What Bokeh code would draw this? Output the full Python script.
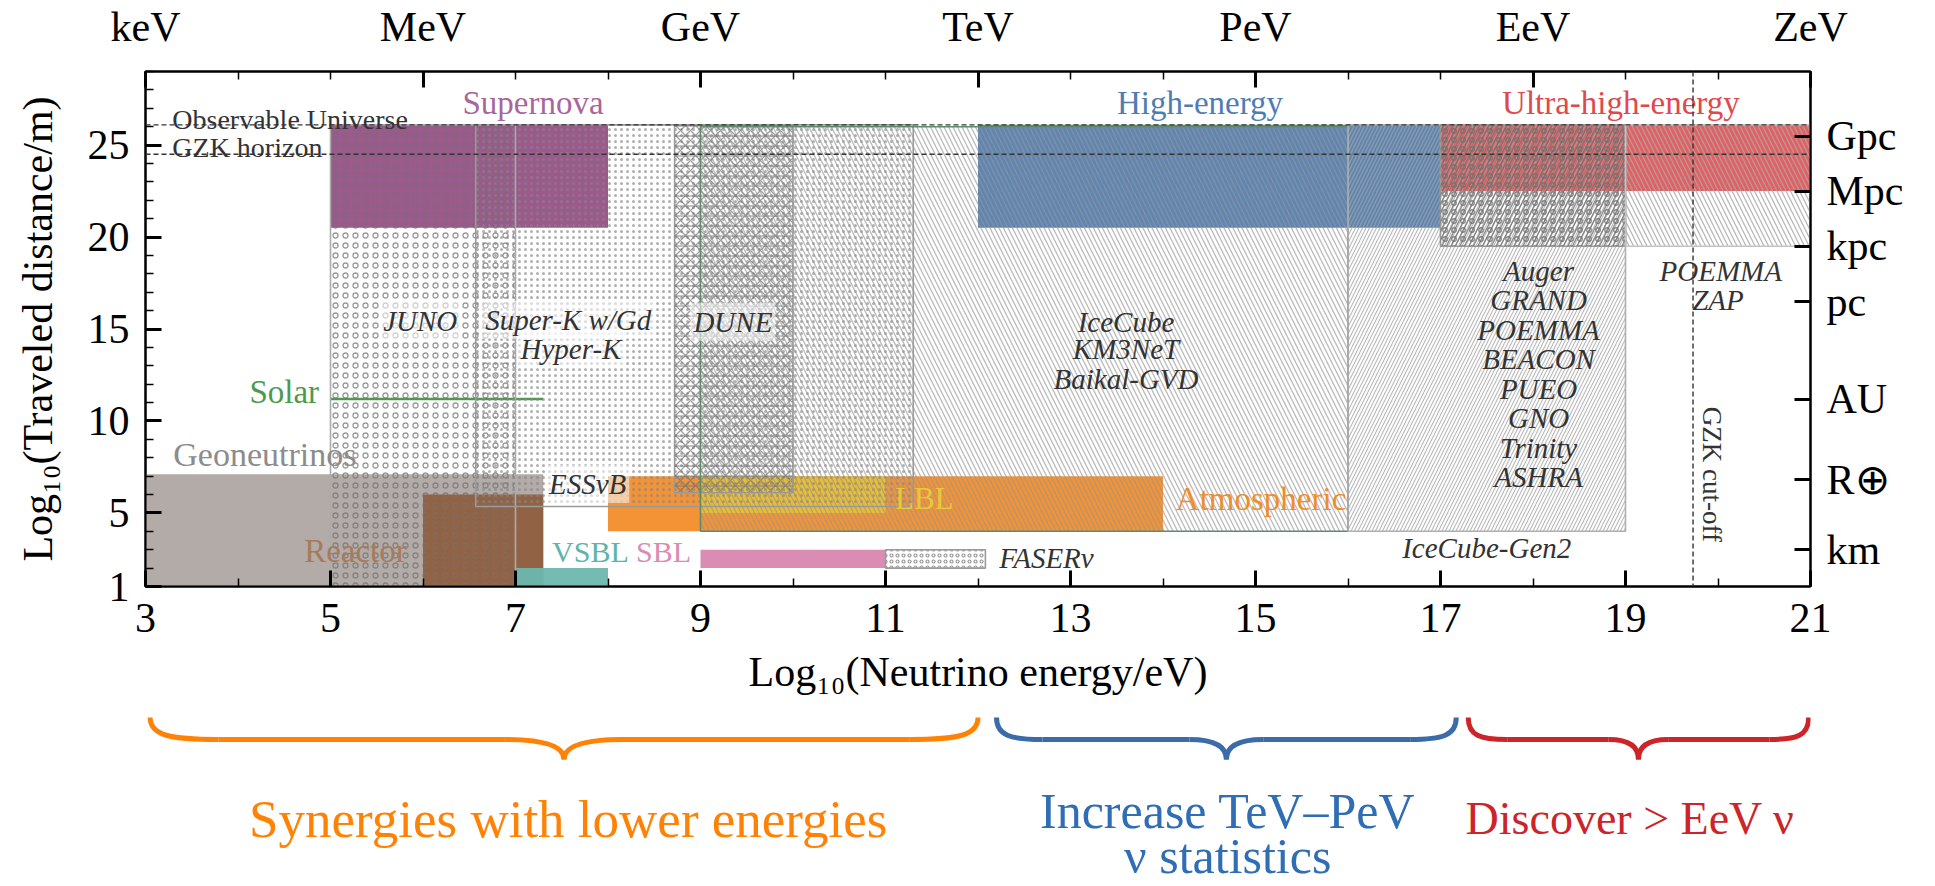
import numpy as np
from bokeh.plotting import figure
from bokeh.models import (Range1d, LinearAxis, FixedTicker, ColumnDataSource,
                          CustomJSTickFormatter, Span, Label)
from bokeh.layouts import column
from bokeh.embed import file_html
from bokeh.resources import INLINE
from bokeh.core.properties import value

FONT = "Liberation Serif"

# ---------------- axes ----------------
energy_ticks = [3, 5, 7, 9, 11, 13, 15, 17, 19, 21]
distance_ticks = [1, 5, 10, 15, 20, 25]
energy_unit_pos = [3, 6, 9, 12, 15, 18, 21]
energy_units = ["keV", "MeV", "GeV", "TeV", "PeV", "EeV", "ZeV"]
distance_unit_pos = [3.0, 6.80, 11.17, 16.49, 19.49, 22.49, 25.49]
distance_units = ["km", "R⊕", "AU", "pc", "kpc", "Mpc", "Gpc"]

# ---------------- horizons ----------------
observable_universe = 26.1
gzk_horizon = 24.5
gzk_cutoff = 19.73

# ---------------- neutrino sources (filled boxes), log10(E/eV) x log10(L/m) ----------------
source_names = ["Geoneutrinos", "Reactor", "VSBL", "SBL", "Atmospheric", "LBL",
                "Supernova", "High-energy", "Ultra-high-energy"]
source_e_lo = [3.0, 6.0, 7.0, 9.0, 8.0, 9.0, 5.0, 12.0, 17.0]
source_e_hi = [7.3, 7.3, 8.0, 11.0, 14.0, 11.0, 8.0, 17.0, 21.0]
source_d_lo = [1.0, 1.0, 1.0, 2.0, 4.0, 5.0, 20.5, 20.5, 22.5]
source_d_hi = [7.1, 6.0, 2.0, 3.0, 7.0, 7.0, 26.1, 26.1, 26.1]
source_colors = ["#A69C98", "#8E5A3A", "#6DB7AE", "#D886AE", "#F28A24", "#EAC52E",
                 "#8A3C78", "#4E79AA", "#DE4447"]
source_alpha = [0.85, 0.9, 0.95, 0.95, 0.92, 0.85, 0.85, 0.9, 0.85]

# solar neutrinos: a single distance (Sun-Earth) over an energy band
solar_e = [5.0, 7.3]
solar_d = 11.2

# ---------------- detectors (hatched boxes) ----------------
det_names = ["JUNO", "Super-K w/Gd, Hyper-K", "DUNE", "IceCube, KM3NeT, Baikal-GVD",
             "IceCube-Gen2", "UHE arrays", "POEMMA, ZAP", "FASERν"]
det_e_lo = [5.0, 6.57, 8.72, 9.0, 16.0, 17.0, 19.0, 11.0]
det_e_hi = [7.0, 11.3, 10.0, 16.0, 19.0, 19.0, 21.0, 12.08]
det_d_lo = [1.0, 5.35, 6.1, 4.0, 4.0, 19.5, 19.5, 2.0]
det_d_hi = [26.1, 26.1, 26.1, 26.0, 26.1, 26.1, 26.1, 3.0]
det_hatch = ["ring", "dot", "diagonal_cross", "left_diagonal_line", "right_diagonal_line",
             "ring", "left_diagonal_line", "ring"]
det_hatch2 = [None, None, "horizontal_line", None, None, "right_diagonal_line", None, None]
det_scale = [10, 6, 10, 9, 7, 9, 9, 6]
det_weight = [1.3, 1.8, 1.3, 1.4, 1.2, 1.3, 1.3, 1.2]
det_hcolor = ["#707070", "#858585", "#6E6E6E", "#949494", "#A4A4A4", "#6E6E6E", "#A8A8A8", "#808080"]
det_halpha = [0.7, 0.65, 0.65, 0.62, 0.72, 0.8, 0.8, 0.8]
det_edge = ["#ABABAB", "#9A9A9A", "#9A9A9A", "#5E8C6A", "#B0B0B0", "#9A9A9A", "#C4C4C4", "#9A9A9A"]

# ---------------- labels ----------------
src_lab_text = ["Geoneutrinos", "Reactor", "VSBL", "SBL", "LBL", "Atmospheric", "Solar",
                "Supernova", "High-energy", "Ultra-high-energy"]
src_lab_x = [4.29, 5.27, 7.81, 8.6, 11.42, 15.06, 4.5, 7.19, 14.4, 18.95]
src_lab_y = [8.2, 2.95, 2.93, 2.93, 5.76, 5.75, 11.55, 27.3, 27.3, 27.3]
src_lab_size = ["34px", "33px", "30px", "30px", "31px", "33px", "33px", "33px", "33px", "33px"]
src_lab_color = ["#8C8C8C", "#A67B5B", "#5FB3AA", "#D98CB3", "#E8C83A", "#F28C28",
                 "#4C9A4C", "#A8669B", "#4F7DB3", "#E0484E"]

boxed_text = ["JUNO", "Super-K w/Gd", "Hyper-K", "DUNE", "ESSνB"]
boxed_x = [5.97, 7.57, 7.6, 9.35, 7.78]
boxed_y = [15.43, 15.5, 13.9, 15.4, 6.57]

exp_text = ["IceCube", "KM3NeT", "Baikal-GVD", "FASERν", "IceCube-Gen2",
            "Auger", "GRAND", "POEMMA", "BEACON", "PUEO", "GNO", "Trinity", "ASHRA",
            "POEMMA", "ZAP"]
exp_x = [13.6, 13.6, 13.6, 12.74, 17.5,
         18.06, 18.06, 18.06, 18.06, 18.06, 18.06, 18.06, 18.06,
         20.03, 20.0]
exp_y = [15.4, 13.9, 12.3, 2.57, 3.1,
         18.17, 16.6, 14.95, 13.37, 11.75, 10.17, 8.53, 6.96,
         18.15, 16.6]

horizon_text = ["Observable Universe", "GZK horizon"]
horizon_x = [3.29, 3.29]
horizon_y = [26.4, 24.86]

# ---------------- bottom summary ----------------
brace_lo = [3.05, 12.2, 17.3]
brace_hi = [12.0, 17.17, 20.98]
brace_colors = ["#FF8205", "#3B6BA8", "#CC2428"]
goal_text = ["Synergies with lower energies", "Increase TeV–PeV", "ν statistics", "Discover > EeV ν"]
goal_x = [7.57, 14.7, 14.7, 19.05]
goal_y = [118, 110, 155, 118]
goal_size = ["53px", "50px", "50px", "46px"]
goal_color = ["#FF8205", "#2F6DB5", "#2F6DB5", "#CC2428"]

# =====================================================================
W, H_MAIN, H_FOOT = 1935, 700, 186
B_LEFT, B_RIGHT = 145, 125
x_rng = Range1d(3, 21)
p = figure(width=W, height=H_MAIN, x_range=x_rng, y_range=Range1d(1, 29),
           output_backend="svg", toolbar_location=None,
           min_border_left=B_LEFT, min_border_right=B_RIGHT, min_border_top=70, min_border_bottom=114)
p.xgrid.visible = False
p.ygrid.visible = False
p.outline_line_color = "black"
p.outline_line_width = 2
p.background_fill_color = "white"
p.border_fill_color = "white"


def style_axis(ax, size="42px"):
    ax.major_tick_in = 16
    ax.major_tick_out = 0
    ax.minor_tick_in = 8
    ax.minor_tick_out = 0
    ax.major_tick_line_width = 3
    ax.minor_tick_line_width = 1.5
    ax.axis_line_width = 2
    ax.major_label_text_font = FONT
    ax.major_label_text_font_size = size
    ax.major_label_text_color = "black"
    ax.axis_label_text_font = FONT
    ax.axis_label_text_font_size = "42px"
    ax.axis_label_text_font_style = "normal"
    ax.axis_label_text_color = "black"


xa = p.xaxis[0]
xa.ticker = FixedTicker(ticks=energy_ticks, minor_ticks=list(range(3, 22)))
xa.axis_label = "Log₁₀(Neutrino energy/eV)"
style_axis(xa)
xa.major_label_standoff = 17
xa.axis_label_standoff = 14

ya = p.yaxis[0]
ya.ticker = FixedTicker(ticks=distance_ticks, minor_ticks=list(range(1, 30)))
ya.axis_label = "Log₁₀(Traveled distance/m)"
style_axis(ya)
ya.major_label_standoff = 16
ya.axis_label_standoff = 24

top = LinearAxis(ticker=FixedTicker(ticks=energy_unit_pos, minor_ticks=list(range(3, 22))),
                 formatter=CustomJSTickFormatter(args=dict(pos=energy_unit_pos, lab=energy_units), code="""
const i = pos.findIndex(v => Math.abs(v - tick) < 1e-6);
return i >= 0 ? lab[i] : "";
"""))
style_axis(top)
top.major_label_standoff = 22
p.add_layout(top, "above")

right = LinearAxis(ticker=FixedTicker(ticks=distance_unit_pos, minor_ticks=[]),
                   formatter=CustomJSTickFormatter(args=dict(pos=distance_unit_pos, lab=distance_units), code="""
const i = pos.findIndex(v => Math.abs(v - tick) < 1e-3);
return i >= 0 ? lab[i] : "";
"""))
style_axis(right)
right.major_label_standoff = 16
p.add_layout(right, "right")

# filled source regions
src = ColumnDataSource(dict(left=source_e_lo, right=source_e_hi, bottom=source_d_lo,
                            top=source_d_hi, color=source_colors, alpha=source_alpha))
p.quad(left="left", right="right", bottom="bottom", top="top", source=src,
       fill_color="color", fill_alpha="alpha", line_color=None)

# solar line
p.line(x=solar_e, y=[solar_d, solar_d], line_color="#4C9A4C", line_width=2.5)

# hatched detector regions
for i in range(len(det_names)):
    p.quad(left=[det_e_lo[i]], right=[det_e_hi[i]], bottom=[det_d_lo[i]], top=[det_d_hi[i]],
           fill_alpha=0, hatch_pattern=det_hatch[i], hatch_color=det_hcolor[i],
           hatch_alpha=det_halpha[i], hatch_scale=det_scale[i], hatch_weight=det_weight[i],
           line_color=det_edge[i], line_width=1.6)
    if det_hatch2[i]:
        p.quad(left=[det_e_lo[i]], right=[det_e_hi[i]], bottom=[det_d_lo[i]], top=[det_d_hi[i]],
               fill_alpha=0, hatch_pattern=det_hatch2[i], hatch_color=det_hcolor[i],
               hatch_alpha=det_halpha[i], hatch_scale=det_scale[i], hatch_weight=det_weight[i],
               line_color=None)

# horizons
for d in (observable_universe, gzk_horizon):
    p.add_layout(Span(location=d, dimension="width", line_color="#333333",
                      line_width=1.4, line_dash="5 3"))
p.add_layout(Span(location=gzk_cutoff, dimension="height", line_color="#333333",
                  line_width=1.4, line_dash="5 3"))

# labels
p.text(x=src_lab_x, y=src_lab_y, text=src_lab_text, text_color=src_lab_color,
       text_font=value(FONT), text_font_size=src_lab_size, text_align="center",
       text_baseline="middle")
p.text(x=boxed_x, y=boxed_y, text=boxed_text, text_color="#333333",
       text_font=value(FONT), text_font_size="29px", text_font_style="italic",
       text_align="center", text_baseline="middle",
       background_fill_color="white", background_fill_alpha=0.55, padding=3)
p.text(x=exp_x, y=exp_y, text=exp_text, text_color="#333333",
       text_font=value(FONT), text_font_size="29px", text_font_style="italic",
       text_align="center", text_baseline="middle")
p.text(x=horizon_x, y=horizon_y, text=horizon_text, text_color="#333333",
       text_font=value(FONT), text_font_size="28px", text_align="left",
       text_baseline="alphabetic")
p.text(x=[19.93], y=[7.1], text=["GZK cut-off"], text_color="#333333",
       text_font=value(FONT), text_font_size="27px", text_align="center",
       text_baseline="middle", angle=-np.pi / 2)

# =====================================================================
# summary braces under the energy axis (same energy scale as the plot above)
p2 = figure(width=W, height=H_FOOT, x_range=x_rng, y_range=Range1d(H_FOOT, 0),
            output_backend="svg", toolbar_location=None,
            x_axis_type=None, y_axis_type=None,
            min_border_left=B_LEFT, min_border_right=B_RIGHT, min_border_top=0, min_border_bottom=0)
p2.xgrid.visible = False
p2.ygrid.visible = False
p2.outline_line_color = None

Y_END, Y_BAR, Y_TIP = 17, 39, 59
for lo, hi, c in zip(brace_lo, brace_hi, brace_colors):
    w = hi - lo
    mid = 0.5 * (lo + hi)
    h = 0.2 + 0.06 * w
    t = 0.1 + 0.06 * w
    p2.bezier(x0=[lo, mid - t, mid, hi - h], y0=[Y_END, Y_BAR, Y_TIP, Y_BAR],
              x1=[lo + h, mid, mid + t, hi], y1=[Y_BAR, Y_TIP, Y_BAR, Y_END],
              cx0=[lo, mid - 0.35 * t, mid, hi - 0.3 * h], cy0=[Y_BAR - 4, Y_BAR, Y_BAR + 6, Y_BAR],
              cx1=[lo + 0.3 * h, mid, mid + 0.35 * t, hi], cy1=[Y_BAR, Y_BAR + 6, Y_BAR, Y_BAR - 4],
              line_color=c, line_width=5)
    p2.segment(x0=[lo + h, mid + t], y0=[Y_BAR, Y_BAR], x1=[mid - t, hi - h], y1=[Y_BAR, Y_BAR],
               line_color=c, line_width=5)

for t, x, y, s, c in zip(goal_text, goal_x, goal_y, goal_size, goal_color):
    p2.add_layout(Label(x=x, y=y, text=t, text_color=c, text_font=FONT,
                        text_font_size=s, text_align="center", text_baseline="middle"))

layout = column(p, p2, spacing=0)
open("out.html", "w").write(file_html(layout, INLINE))
